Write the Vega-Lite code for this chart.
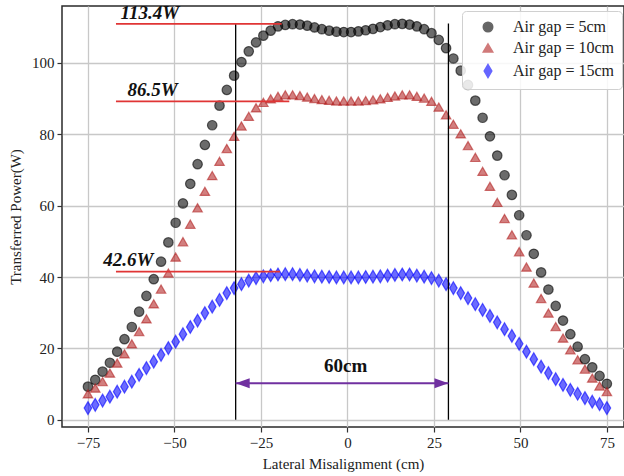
{
  "$schema": "https://vega.github.io/schema/vega-lite/v6.json",
  "width": 562,
  "height": 421,
  "autosize": "none",
  "padding": {"left": 62, "top": 6, "right": 0, "bottom": 49},
  "background": "white",
  "config": {
    "view": {"stroke": "#2a2a2a", "strokeWidth": 1.5},
    "font": "Liberation Serif",
    "axis": {
      "labelFont": "Liberation Serif", "titleFont": "Liberation Serif",
      "labelFontSize": 15, "titleFontSize": 15, "titleFontWeight": "normal",
      "labelColor": "#222", "titleColor": "#222",
      "gridColor": "#c8c8c8", "gridWidth": 1.3,
      "tickColor": "#333", "tickSize": 5, "tickWidth": 1.2, "domain": false, "labelPadding": 3
    }
  },
  "datasets": {
    "curves": [
      {"x": -75, "5cm": 9.3, "10cm": 7.3, "15cm": 3.3},
      {"x": -72.89, "5cm": 11.2, "10cm": 8.9, "15cm": 4.2},
      {"x": -70.77, "5cm": 13.5, "10cm": 10.7, "15cm": 5.4},
      {"x": -68.66, "5cm": 16.0, "10cm": 13.1, "15cm": 6.5},
      {"x": -66.55, "5cm": 19.1, "10cm": 15.9, "15cm": 7.9},
      {"x": -64.44, "5cm": 22.6, "10cm": 18.5, "15cm": 9.3},
      {"x": -62.32, "5cm": 26.0, "10cm": 21.3, "15cm": 10.7},
      {"x": -60.21, "5cm": 30.3, "10cm": 24.7, "15cm": 12.6},
      {"x": -58.1, "5cm": 34.7, "10cm": 28.3, "15cm": 14.5},
      {"x": -55.99, "5cm": 39.4, "10cm": 32.5, "15cm": 16.3},
      {"x": -53.87, "5cm": 44.3, "10cm": 36.6, "15cm": 18.2},
      {"x": -51.76, "5cm": 49.7, "10cm": 41.1, "15cm": 20.1},
      {"x": -49.65, "5cm": 55.2, "10cm": 45.6, "15cm": 21.9},
      {"x": -47.54, "5cm": 60.6, "10cm": 49.9, "15cm": 24.0},
      {"x": -45.42, "5cm": 66.1, "10cm": 54.8, "15cm": 26.0},
      {"x": -43.31, "5cm": 71.6, "10cm": 59.4, "15cm": 27.8},
      {"x": -41.2, "5cm": 77.0, "10cm": 64.0, "15cm": 29.9},
      {"x": -39.08, "5cm": 82.5, "10cm": 68.4, "15cm": 31.7},
      {"x": -36.97, "5cm": 88.0, "10cm": 72.4, "15cm": 33.6},
      {"x": -34.86, "5cm": 92.4, "10cm": 76.0, "15cm": 35.5},
      {"x": -32.75, "5cm": 96.4, "10cm": 79.4, "15cm": 36.9},
      {"x": -30.63, "5cm": 100.2, "10cm": 82.3, "15cm": 38.0},
      {"x": -28.52, "5cm": 103.2, "10cm": 85.0, "15cm": 39.0},
      {"x": -26.41, "5cm": 105.7, "10cm": 87.4, "15cm": 39.7},
      {"x": -24.3, "5cm": 107.6, "10cm": 88.9, "15cm": 40.2},
      {"x": -22.18, "5cm": 109.0, "10cm": 89.9, "15cm": 40.5},
      {"x": -20.07, "5cm": 110.2, "10cm": 90.6, "15cm": 40.7},
      {"x": -17.96, "5cm": 110.6, "10cm": 91.0, "15cm": 40.8},
      {"x": -15.85, "5cm": 110.8, "10cm": 91.0, "15cm": 40.8},
      {"x": -13.73, "5cm": 110.7, "10cm": 90.8, "15cm": 40.6},
      {"x": -11.62, "5cm": 110.4, "10cm": 90.4, "15cm": 40.4},
      {"x": -9.51, "5cm": 109.9, "10cm": 90.0, "15cm": 40.2},
      {"x": -7.39, "5cm": 109.4, "10cm": 89.7, "15cm": 40.1},
      {"x": -5.28, "5cm": 109.0, "10cm": 89.5, "15cm": 40.0},
      {"x": -3.17, "5cm": 108.7, "10cm": 89.3, "15cm": 39.9},
      {"x": -1.06, "5cm": 108.6, "10cm": 89.3, "15cm": 39.9},
      {"x": 1.06, "5cm": 108.6, "10cm": 89.3, "15cm": 39.9},
      {"x": 3.17, "5cm": 108.8, "10cm": 89.3, "15cm": 39.9},
      {"x": 5.28, "5cm": 109.1, "10cm": 89.4, "15cm": 40.0},
      {"x": 7.39, "5cm": 109.5, "10cm": 89.6, "15cm": 40.1},
      {"x": 9.51, "5cm": 110.0, "10cm": 89.9, "15cm": 40.2},
      {"x": 11.62, "5cm": 110.5, "10cm": 90.3, "15cm": 40.4},
      {"x": 13.73, "5cm": 110.8, "10cm": 90.7, "15cm": 40.6},
      {"x": 15.85, "5cm": 110.9, "10cm": 91.0, "15cm": 40.7},
      {"x": 17.96, "5cm": 110.7, "10cm": 91.0, "15cm": 40.7},
      {"x": 20.07, "5cm": 110.2, "10cm": 90.6, "15cm": 40.4},
      {"x": 22.18, "5cm": 109.4, "10cm": 90.1, "15cm": 40.1},
      {"x": 24.3, "5cm": 108.3, "10cm": 89.2, "15cm": 39.7},
      {"x": 26.41, "5cm": 106.4, "10cm": 87.6, "15cm": 39.0},
      {"x": 28.52, "5cm": 104.1, "10cm": 85.4, "15cm": 38.0},
      {"x": 30.63, "5cm": 101.2, "10cm": 82.8, "15cm": 36.9},
      {"x": 32.75, "5cm": 97.8, "10cm": 80.1, "15cm": 35.5},
      {"x": 34.86, "5cm": 93.8, "10cm": 76.8, "15cm": 34.1},
      {"x": 36.97, "5cm": 89.4, "10cm": 73.5, "15cm": 32.4},
      {"x": 39.08, "5cm": 84.6, "10cm": 69.6, "15cm": 30.8},
      {"x": 41.2, "5cm": 79.4, "10cm": 65.4, "15cm": 29.1},
      {"x": 43.31, "5cm": 74.0, "10cm": 60.9, "15cm": 27.3},
      {"x": 45.42, "5cm": 68.5, "10cm": 56.4, "15cm": 25.4},
      {"x": 47.54, "5cm": 63.0, "10cm": 51.8, "15cm": 23.5},
      {"x": 49.65, "5cm": 57.3, "10cm": 47.1, "15cm": 21.3},
      {"x": 51.76, "5cm": 51.7, "10cm": 42.8, "15cm": 19.1},
      {"x": 53.87, "5cm": 46.5, "10cm": 38.3, "15cm": 17.0},
      {"x": 55.99, "5cm": 41.3, "10cm": 34.0, "15cm": 14.9},
      {"x": 58.1, "5cm": 36.5, "10cm": 29.9, "15cm": 13.1},
      {"x": 60.21, "5cm": 31.9, "10cm": 26.1, "15cm": 11.4},
      {"x": 62.32, "5cm": 27.8, "10cm": 22.9, "15cm": 9.8},
      {"x": 64.44, "5cm": 24.0, "10cm": 19.6, "15cm": 8.4},
      {"x": 66.55, "5cm": 20.5, "10cm": 16.8, "15cm": 7.3},
      {"x": 68.66, "5cm": 17.0, "10cm": 14.2, "15cm": 6.1},
      {"x": 70.77, "5cm": 14.7, "10cm": 11.7, "15cm": 5.1},
      {"x": 72.89, "5cm": 12.3, "10cm": 9.5, "15cm": 4.4},
      {"x": 75, "5cm": 10.1, "10cm": 7.9, "15cm": 3.3}
    ],
    "vlines": [
      {"x": -32.3, "y0": 0, "y1": 111.0},
      {"x": 29.2, "y0": 0, "y1": 111.0}
    ],
    "hlines": [
      {"x0": -66.9, "x1": -19.0, "y": 110.9},
      {"x0": -66.9, "x1": -16.8, "y": 89.2},
      {"x0": -66.9, "x1": -19.5, "y": 41.5}
    ],
    "labels": [
      {"x": -65.6, "y": 112.3, "t": "113.4W"},
      {"x": -63.6, "y": 90.7, "t": "86.5W"},
      {"x": -70.6, "y": 43.1, "t": "42.6W"}
    ],
    "arrow": [
      {"x0": -32.3, "x1": 29.2, "y": 10.25}
    ],
    "span": [
      {"x": -0.5, "y": 13.3, "t": "60cm"}
    ]
  },
  "encoding": {
    "x": {"type": "quantitative"},
    "y": {"type": "quantitative"}
  },
  "layer": [
    {
      "data": {"name": "curves"},
      "transform": [{"fold": ["5cm", "10cm", "15cm"], "as": ["series", "power"]}],
      "mark": {"type": "point", "filled": true, "size": 90, "fillOpacity": 0.58, "strokeOpacity": 0.6, "strokeWidth": 1.2},
      "encoding": {
        "x": {"field": "x", "type": "quantitative", "scale": {"domain": [-82.5, 79.95], "nice": false, "zero": false},
              "axis": {"values": [-75, -50, -25, 0, 25, 50, 75], "title": "Lateral Misalignment (cm)", "titlePadding": 6}},
        "y": {"field": "power", "type": "quantitative", "scale": {"domain": [-2, 115.9], "nice": false, "zero": false},
              "axis": {"values": [0, 20, 40, 60, 80, 100], "title": "Transferred Power(W)", "titlePadding": 8}},
        "fill": {"field": "series", "type": "nominal",
                  "scale": {"domain": ["5cm", "10cm", "15cm"], "range": ["#000000", "#b22222", "#0000ff"]},
                  "legend": {"orient": "none", "legendX": 400, "legendY": 5, "title": null,
                             "labelExpr": "'Air gap = ' + datum.label",
                             "labelFont": "Liberation Serif", "labelFontSize": 16, "labelColor": "#222",
                             "fillColor": "rgba(255,255,255,0.85)", "strokeColor": "#d0d0d0", "cornerRadius": 4,
                             "padding": 8, "rowPadding": 5, "symbolOffset": 10, "labelOffset": 17, "symbolSize": 90,
                             "symbolOpacity": 0.6}},
        "stroke": {"field": "series", "type": "nominal",
                  "scale": {"domain": ["5cm", "10cm", "15cm"], "range": ["#000000", "#b22222", "#0000ff"]}},
        "shape": {"field": "series", "type": "nominal",
                  "scale": {"domain": ["5cm", "10cm", "15cm"], "range": ["circle", "triangle-up", "M0,-1.35L0.8,0L0,1.35L-0.8,0Z"]}}
      }
    },
    {
      "data": {"name": "vlines"},
      "mark": {"type": "rule", "color": "#000", "strokeWidth": 1.3},
      "encoding": {"x": {"field": "x", "type": "quantitative"}, "y": {"field": "y0", "type": "quantitative"}, "y2": {"field": "y1"}}
    },
    {
      "data": {"name": "hlines"},
      "mark": {"type": "rule", "color": "#e03535", "strokeWidth": 1.6},
      "encoding": {"x": {"field": "x0", "type": "quantitative"}, "x2": {"field": "x1"}, "y": {"field": "y", "type": "quantitative"}}
    },
    {
      "data": {"name": "labels"},
      "mark": {"type": "text", "font": "Liberation Serif", "fontSize": 19, "fontWeight": "bold", "fontStyle": "italic", "align": "left", "baseline": "alphabetic", "color": "#111"},
      "encoding": {"x": {"field": "x", "type": "quantitative"}, "y": {"field": "y", "type": "quantitative"}, "text": {"field": "t"}}
    },
    {
      "data": {"name": "arrow"},
      "mark": {"type": "rule", "color": "#7030a0", "strokeWidth": 2},
      "encoding": {"x": {"field": "x0", "type": "quantitative"}, "x2": {"field": "x1"}, "y": {"field": "y", "type": "quantitative"}}
    },
    {
      "data": {"name": "arrow"},
      "mark": {"type": "point", "filled": true, "color": "#7030a0", "opacity": 1, "size": 196, "shape": "M0,0L2,-0.7L2,0.7Z"},
      "encoding": {"x": {"field": "x0", "type": "quantitative"}, "y": {"field": "y", "type": "quantitative"}}
    },
    {
      "data": {"name": "arrow"},
      "mark": {"type": "point", "filled": true, "color": "#7030a0", "opacity": 1, "size": 196, "shape": "M0,0L-2,-0.7L-2,0.7Z"},
      "encoding": {"x": {"field": "x1", "type": "quantitative"}, "y": {"field": "y", "type": "quantitative"}}
    },
    {
      "data": {"name": "span"},
      "mark": {"type": "text", "font": "Liberation Serif", "fontSize": 19, "fontWeight": "bold", "align": "center", "baseline": "alphabetic", "color": "#111"},
      "encoding": {"x": {"field": "x", "type": "quantitative"}, "y": {"field": "y", "type": "quantitative"}, "text": {"field": "t"}}
    }
  ]
}
